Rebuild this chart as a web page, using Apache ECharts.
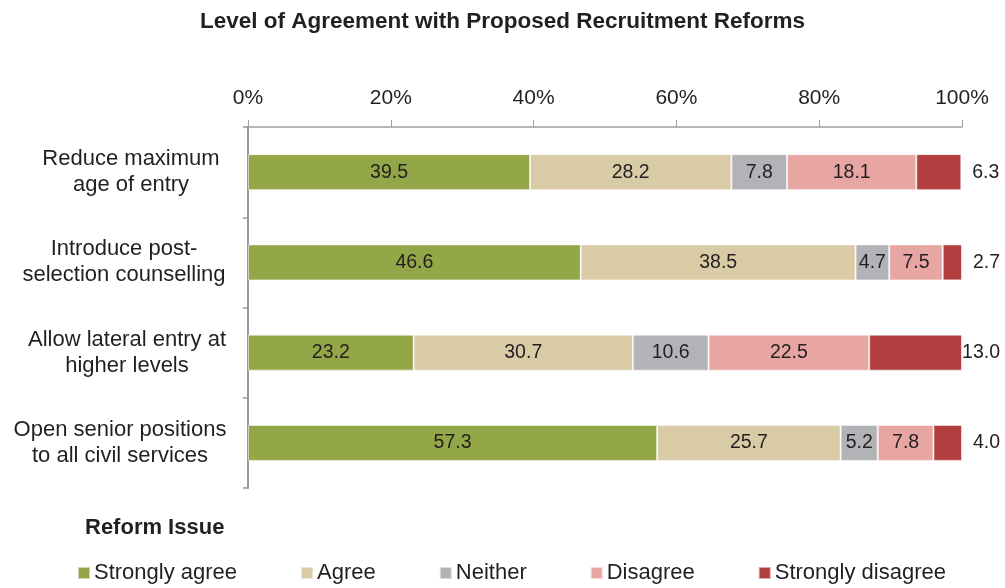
<!DOCTYPE html>
<html>
<head>
<meta charset="utf-8">
<script src="https://cdn.jsdelivr.net/npm/echarts@6/dist/echarts.min.js"></script>
<style>
  html, body { margin: 0; padding: 0; background: #fff; }
  #chart { width: 1005px; height: 588px; }
</style>
</head>
<body>
<div id="chart"></div>
<script>
// Reform issues (top to bottom)
const categories = [
  'Reduce maximum\nage of entry',
  'Introduce post-\nselection counselling',
  'Allow lateral entry at\nhigher levels',
  'Open senior positions\nto all civil services'
];

// Share of respondents (%) per response level
const stronglyAgree    = [39.5, 46.6, 23.2, 57.3];
const agree            = [28.2, 38.5, 30.7, 25.7];
const neither          = [7.8, 4.7, 10.6, 5.2];
const disagree         = [18.1, 7.5, 22.5, 7.8];
const stronglyDisagree = [6.3, 2.7, 13.0, 4.0];

const tickLabels = ['0%', '20%', '40%', '60%', '80%', '100%'];

const FONT = 'Liberation Sans, Arial, sans-serif';
const INK = '#231f20';

// Each two-line label is centred within a block whose right edge sits near the axis;
// the right padding nudges the centre line of the shorter blocks.
const labelShift = [0, 14, 8, 22];
const catRich = {};
labelShift.forEach((p, i) => {
  catRich['c' + i] = {
    fontFamily: FONT, fontSize: 22, lineHeight: 26, color: INK,
    padding: [0, p, 0, 0]
  };
});

function seg(name, data, color, outside) {
  return {
    name: name,
    type: 'bar',
    stack: 'total',
    data: data,
    barWidth: 36,
    itemStyle: { color: color, borderColor: 'rgba(255,255,255,0.55)', borderWidth: 1 },
    label: outside ? {
      show: true,
      position: 'right',
      distance: 38,
      align: 'right',
      color: INK,
      fontFamily: FONT,
      fontSize: 19.5,
      formatter: p => p.value.toFixed(1)
    } : {
      show: true,
      position: 'inside',
      color: INK,
      fontFamily: FONT,
      fontSize: 19.5,
      formatter: p => p.value.toFixed(1)
    },
    emphasis: { disabled: true }
  };
}

const chart = echarts.init(document.getElementById('chart'));
chart.setOption({
  animation: false,
  backgroundColor: '#fff',
  title: [
    {
      text: 'Level of Agreement with Proposed Recruitment Reforms',
      left: 'center',
      top: 5,
      textStyle: { fontFamily: FONT, fontWeight: 'bold', fontSize: 22.5, color: INK }
    },
    {
      text: 'Reform Issue',
      left: 80,
      top: 512,
      textStyle: { fontFamily: FONT, fontWeight: 'bold', fontSize: 22, color: INK }
    }
  ],
  legend: {
    bottom: -1,
    left: 72,
    itemWidth: 12,
    itemHeight: 12,
    itemGap: 63,
    icon: 'rect',
    textStyle: { fontFamily: FONT, fontSize: 22, color: INK, padding: [0, 0, 0, -1] },
    data: ['Strongly agree', 'Agree', 'Neither', 'Disagree', 'Strongly disagree']
  },
  grid: { left: 248, right: 43, top: 127, bottom: 100, containLabel: false },
  xAxis: {
    type: 'value',
    position: 'top',
    min: 0,
    max: 100,
    interval: 20,
    splitLine: { show: false },
    axisLine: { show: true, lineStyle: { color: '#a0a0a0', width: 1.5 } },
    axisTick: { show: true, length: 7, lineStyle: { color: '#a0a0a0', width: 1 } },
    axisLabel: {
      margin: 18,
      fontFamily: FONT,
      fontSize: 21,
      color: INK,
      formatter: v => tickLabels[Math.round(v / 20)]
    }
  },
  yAxis: {
    type: 'category',
    inverse: true,
    data: categories,
    axisLine: { show: true, lineStyle: { color: '#999999', width: 2 } },
    axisTick: { show: true, length: 5, lineStyle: { color: '#999999', width: 1.5 } },
    axisLabel: {
      margin: 117,
      align: 'center',
      fontFamily: FONT,
      fontSize: 22,
      lineHeight: 26,
      color: INK,
      rich: catRich,
      formatter: (value, index) =>
        value.split('\n').map(line => '{c' + index + '|' + line + '}').join('\n')
    }
  },
  series: [
    seg('Strongly agree', stronglyAgree, '#93a648', false),
    seg('Agree', agree, '#d8cba5', false),
    seg('Neither', neither, '#b2b3b7', false),
    seg('Disagree', disagree, '#e8a6a3', false),
    seg('Strongly disagree', stronglyDisagree, '#b33e3f', true)
  ]
});
</script>
</body>
</html>
